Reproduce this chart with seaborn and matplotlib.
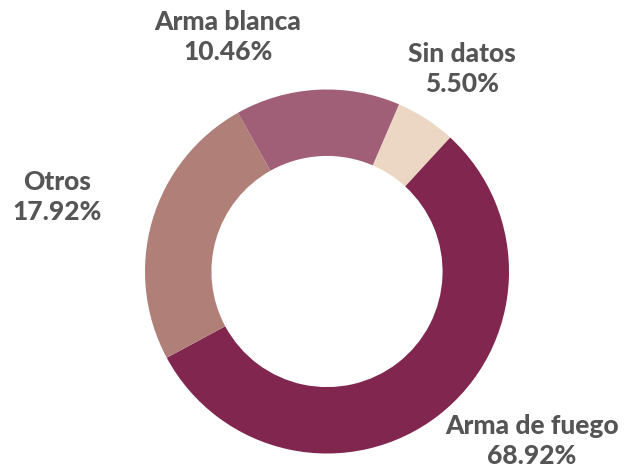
import matplotlib
matplotlib.use("Agg")
import matplotlib.pyplot as plt
import seaborn as sns

categories = ["Sin datos", "Arma de fuego", "Otros", "Arma blanca"]
slice_values = [5.36, 55.31, 24.72, 14.61]
label_pcts = ["5.50%", "68.92%", "17.92%", "10.46%"]
colors = ["#EBD7C4", "#80264F", "#B07F78", "#A05F77"]

sns.set_theme(style="white")
plt.rcParams["font.family"] = ["Lato", "DejaVu Sans"]

W, H = 629, 473
fig = plt.figure(figsize=(W / 100, H / 100), dpi=100)
ax = fig.add_axes([0, 0, 1, 1])

cx, cy, R = 327.0, 271.5, 182.0
palette = sns.color_palette(colors)
ax.pie(slice_values, colors=palette, startangle=90 - 23.3, counterclock=False,
       radius=1.0, wedgeprops=dict(width=0.365, edgecolor="none", linewidth=0))
ax.set_aspect("equal")
ax.set_xlim(-cx / R, (W - cx) / R)
ax.set_ylim(-(H - cy) / R, cy / R)
ax.axis("off")

# label positions in pixel coordinates (center of two-line label)
label_pos = {
    "Sin datos": (462, 69),
    "Arma de fuego": (532, 441),
    "Otros": (57, 197),
    "Arma blanca": (228, 37),
}
for cat, pct in zip(categories, label_pcts):
    px, py = label_pos[cat]
    fig.text(px / W, 1 - py / H, f"{cat}\n{pct}", ha="center", va="center",
             fontsize=19, fontweight="black", color="#555555", linespacing=1.33)

fig.savefig("out.png", dpi=100)
